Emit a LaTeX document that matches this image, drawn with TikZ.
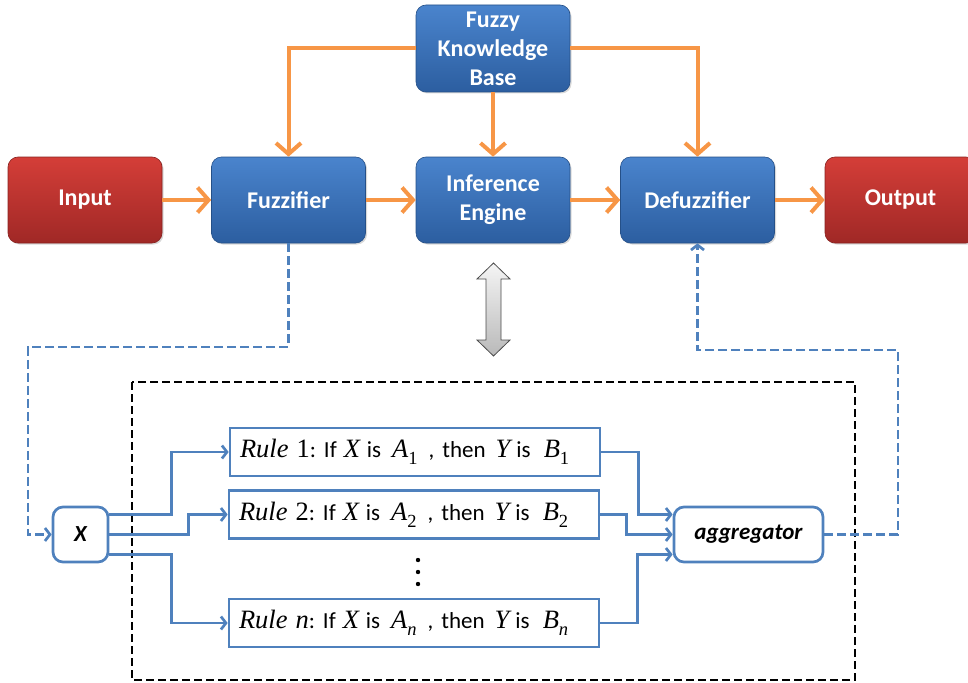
\documentclass[tikz,border=0pt]{standalone}
\usepackage{fontspec}
\setmainfont{Carlito}
\newfontfamily\symfont{Liberation Serif}
\newcommand{\mv}[1]{{\symfont\fontsize{26.5}{27}\selectfont\itshape #1}}
\newcommand{\sym}[1]{{\symfont\fontsize{26.5}{27}\selectfont #1}}
\newcommand{\sub}[1]{\raisebox{-0.3em}{\symfont\fontsize{18.5}{19}\selectfont #1}}
% one line of the rule base: index, subscript
\newcommand{\ruleline}[2]{\mv{Rule}\hspace{8pt}#1:\hspace{8pt}If\hspace{7pt}\mv{X}\hspace{7pt}is\hspace{11pt}\mv{A}\sub{#2}\hspace{11pt},\hspace{8pt}then\hspace{10pt}\mv{Y}\hspace{6pt}is\hspace{13pt}\mv{B}\sub{#2}}
\usetikzlibrary{arrows.meta,calc,shadows}
\definecolor{orangeln}{RGB}{247,150,70}
\definecolor{blueln}{RGB}{79,129,189}
\definecolor{bluetop}{RGB}{74,132,205}
\definecolor{bluebot}{RGB}{44,94,160}
\definecolor{redtop}{RGB}{212,62,56}
\definecolor{redbot}{RGB}{160,40,38}
\begin{document}
\begin{tikzpicture}[x=1pt,y=-1pt,
  blk/.style={rounded corners=10pt, minimum width=154pt, minimum height=86pt,
    align=center, text=white, inner sep=0pt, line width=0.6pt,
    font=\fontsize{24}{29}\selectfont\bfseries,
    drop shadow={opacity=0.3, shadow xshift=1.5pt, shadow yshift=-1.5pt}},
  blueblk/.style={blk, top color=bluetop, bottom color=bluebot, draw=bluebot!85!black},
  redblk/.style={blk, top color=redtop, bottom color=redbot, draw=redbot!85!black},
  orarrow/.style={draw=orangeln, line width=4pt,
    -{Straight Barb[length=11pt,width=25pt]}},
  blarrow/.style={draw=blueln, line width=2.7pt,
    -{Straight Barb[length=5pt,width=13pt]}},
  bldash/.style={blarrow, dash pattern=on 9pt off 4pt},
  rulebox/.style={draw=blueln, line width=2.7pt, fill=white, minimum width=370pt,
    minimum height=48pt, text width=360pt, inner xsep=5pt, align=left,
    font=\fontsize{23}{27}\selectfont},
  roundbox/.style={draw=blueln, line width=2.7pt, fill=white, rounded corners=10pt,
    minimum height=55pt, inner sep=0pt,
    font=\fontsize{23}{27}\selectfont\bfseries\itshape}
]
\useasboundingbox (0,0) rectangle (968,682);

% main processing chain
\node[redblk]  (inp)    at (85,200)    {Input};
\node[blueblk] (fuzz)   at (288.5,200) {Fuzzifier};
\node[blueblk] (inf)    at (493,200)   {Inference\\Engine};
\node[blueblk] (defuzz) at (697.5,200) {Defuzzifier};
\node[redblk, minimum width=151pt] (out) at (900.5,200) {Output};
\node[blueblk, minimum height=87pt] (kb) at (493,48.5) {Fuzzy\\Knowledge\\Base};

\draw[orarrow] (inp) -- (fuzz);
\draw[orarrow] (fuzz) -- (inf);
\draw[orarrow] (inf) -- (defuzz);
\draw[orarrow] (defuzz) -- (out);
\draw[orarrow] (kb) -- (inf);
\draw[orarrow] (kb.west) -| (fuzz.north);
\draw[orarrow] (kb.east) -| (defuzz.north);

% two-way link between the engine and the rule base
\path[draw=gray!60!black, line width=0.8pt, top color=gray!8, bottom color=gray!55]
  (493.5,263) -- (510,279) -- (501,279) -- (501,340) -- (510,340) -- (493.5,356)
  -- (477,340) -- (486,340) -- (486,279) -- (477,279) -- cycle;

% rule base frame
\draw[black, line width=2.5pt, dash pattern=on 8pt off 4pt] (132,382) rectangle (855,680);

% rule base
\node[roundbox, minimum width=55pt] (xin) at (80.5,534.5) {X};
\node[rulebox] (r1) at (415,452)   {\hspace{5pt}\ruleline{\sym{1}}{1}};
\node[rulebox] (r2) at (414,514.5) {\hspace{5pt}\ruleline{\sym{2}}{2}};
\node[rulebox] (rn) at (414,623)   {\hspace{5pt}\ruleline{\mv{n}}{\itshape n}};
\node[roundbox, minimum width=149pt] (agg) at (748.5,534.5) {aggregator};

\fill (418,560) circle (2.2pt);
\fill (418,572) circle (2.2pt);
\fill (418,584) circle (2.2pt);

\draw[blarrow] ($(xin.east)+(0,-20)$) -- ++(62,0) |- (r1.west);
\draw[blarrow] (xin.east) -- ++(79,0) |- (r2.west);
\draw[blarrow] ($(xin.east)+(0,20)$) -- ++(62,0) |- (rn.west);

\draw[blarrow] (r1.east) -- ++(37,0) |- ($(agg.west)+(0,-20)$);
\draw[blarrow] (r2.east) -- ++(26,0) |- (agg.west);
\draw[blarrow] (rn.east) -- ++(37,0) |- ($(agg.west)+(0,20)$);

% dashed links to and from the chain
\coordinate (fbend) at (28,347);
\coordinate (abend) at (898,350);
\draw[bldash] (fuzz.south) |- (fbend) |- (xin.west);
\draw[bldash] (agg.east) -| (abend) -| (defuzz.south);
\end{tikzpicture}
\end{document}
